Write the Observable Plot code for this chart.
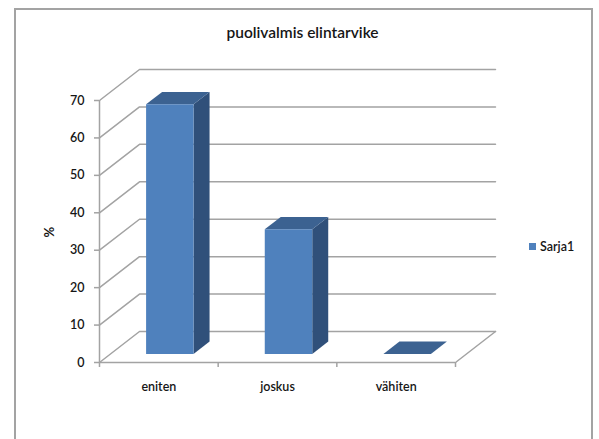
<!DOCTYPE html>
<html>
<head>
<meta charset="utf-8">
<script src="https://cdn.jsdelivr.net/npm/d3@7"></script>
<script src="https://cdn.jsdelivr.net/npm/@observablehq/plot@0.6"></script>
<style>
  html, body { margin: 0; padding: 0; background: #fff; overflow: hidden; }
  #page { position: relative; width: 599px; height: 439px; font-family: Lato, sans-serif; color: #161616; }
  #page svg { position: absolute; left: 0; top: 0; overflow: visible; }
  #border { position: absolute; left: 14px; top: 8px; width: 575px; height: 440px; border: 2px solid #a3a3a3; box-sizing: content-box; }
  #title { position: absolute; left: 14px; width: 577px; top: 23px; text-align: center; font-size: 15.5px; font-weight: 600; }
  #legend { position: absolute; left: 529px; top: 239px; font-size: 12.5px; font-weight: 600; display: flex; align-items: center; gap: 4px; }
  #legend i { display: block; width: 7px; height: 7px; background: #4f81bd; }
</style>
</head>
<body>
<div id="page">
  <div id="border"></div>
  <div id="title">puolivalmis elintarvike</div>
  <div id="legend"><i></i><span>Sarja1</span></div>
</div>
<script>
// Share of respondents per category
const categories = ["eniten", "joskus", "vähiten"];
const values = [66.7, 33.3, 0];
const yTicks = [0, 10, 20, 30, 40, 50, 60, 70];

// Oblique depth of the chart box, in scale units
const depthX = 0.337;
const depthY = 8.28;
// Bar placement within a category slot and within the box depth
const barStart = 0.3, barEnd = 0.7;
const depthFront = 0.275, depthBack = 0.675;

const gridColor = "#a3a3a3";
const textColor = "#161616";
const frontColor = "#4f81bd";
const sideColor = "#30507a";
const topColor = "#3c6291";

// Project a point (x, value) at a fraction of the box depth
const at = (x, v, d) => ({x: x + d * depthX, y: v + d * depthY});

// Floor and wall lines: up from the front edge, then along the back wall
const wallLines = yTicks.flatMap((v) => [
  {...at(0, v, 0), z: v},
  {...at(0, v, 1), z: v},
  {...at(categories.length, v, 1), z: v}
]);
const floorEdge = [at(categories.length, 0, 0), at(categories.length, 0, 1)];

const sideFaces = [], topFaces = [], frontFaces = [];
values.forEach((v, i) => {
  const a = i + barStart, b = i + barEnd;
  sideFaces.push(
    {...at(b, 0, depthFront), z: i}, {...at(b, 0, depthBack), z: i},
    {...at(b, v, depthBack), z: i}, {...at(b, v, depthFront), z: i}
  );
  topFaces.push(
    {...at(a, v, depthFront), z: i}, {...at(b, v, depthFront), z: i},
    {...at(b, v, depthBack), z: i}, {...at(a, v, depthBack), z: i}
  );
  frontFaces.push(
    {...at(a, 0, depthFront), z: i}, {...at(b, 0, depthFront), z: i},
    {...at(b, v, depthFront), z: i}, {...at(a, v, depthFront), z: i}
  );
});

const face = (data, fill) => Plot.line(data, {x: "x", y: "y", z: "z", fill, stroke: "none", curve: "linear-closed"});

const chart = Plot.plot({
  width: 599,
  height: 439,
  marginLeft: 99,
  marginRight: 144,
  marginTop: 100,
  marginBottom: 77,
  style: {fontFamily: "Lato, sans-serif", background: "transparent", overflow: "visible"},
  x: {type: "linear", domain: [0, categories.length], axis: null},
  y: {type: "linear", domain: [0, 70], axis: null},
  marks: [
    Plot.line(wallLines, {x: "x", y: "y", z: "z", stroke: gridColor, strokeWidth: 1.5}),
    Plot.line(floorEdge, {x: "x", y: "y", stroke: gridColor, strokeWidth: 1.5}),
    Plot.ruleX([0], {y1: 0, y2: 70, stroke: gridColor, strokeWidth: 1.5}),
    Plot.ruleY([0], {x1: 0, x2: categories.length, stroke: gridColor, strokeWidth: 1.5}),
    Plot.axisY({ticks: yTicks, anchor: "left", tickSize: 5, tickPadding: 10, stroke: gridColor, strokeWidth: 1.5, strokeOpacity: 1, fill: textColor, fontSize: 12.5, fontWeight: 600, label: null}),
    Plot.axisX({ticks: d3.range(categories.length + 1), anchor: "bottom", tickSize: 5, tickFormat: () => "", stroke: gridColor, strokeWidth: 1.5, strokeOpacity: 1, label: null}),
    Plot.text(categories, {x: (d, i) => i + 0.5, y: 0, text: (d) => d, dy: 24, fontSize: 12.5, fontWeight: 600, fill: textColor}),
    Plot.text(["%"], {frameAnchor: "left", dx: -50, dy: 6, rotate: -90, fontSize: 13, fontWeight: 700, fill: textColor}),
    face(sideFaces, sideColor),
    face(topFaces, topColor),
    face(frontFaces, frontColor)
  ]
});
document.getElementById("page").appendChild(chart);
</script>
</body>
</html>
